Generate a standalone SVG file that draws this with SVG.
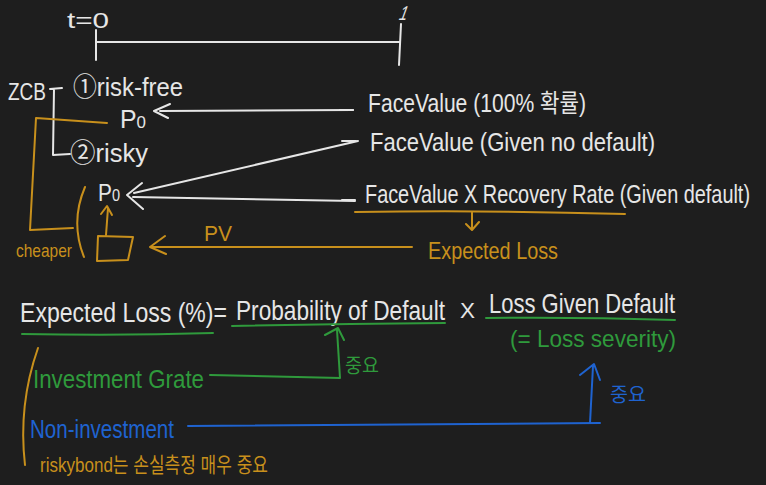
<svg xmlns="http://www.w3.org/2000/svg" width="766" height="485" viewBox="0 0 766 485">
<defs>
<style>
.t{font-family:"Liberation Sans","Noto Sans CJK KR",sans-serif;}
.w{fill:#e6e6e6}
.g{fill:#c8901c}
.gr{fill:#2f9a3c}
.b{fill:#1f63d0}
.sw{stroke:#e6e6e6;fill:none;stroke-width:2;stroke-linecap:round;stroke-linejoin:round}
.sg{stroke:#c8901c;fill:none;stroke-width:2;stroke-linecap:round;stroke-linejoin:round}
.sgr{stroke:#2f9a3c;fill:none;stroke-width:2;stroke-linecap:round;stroke-linejoin:round}
.sb{stroke:#1f63d0;fill:none;stroke-width:2;stroke-linecap:round;stroke-linejoin:round}
</style>
</defs>
<rect width="766" height="485" fill="#1e1e1e"/>

<g id="timeline">
<text class="t w" x="67" y="28" font-size="22" textLength="42" lengthAdjust="spacingAndGlyphs">t=0</text>
<text class="t w" x="398" y="20" font-size="20" transform="skewX(-20) translate(7 0)" textLength="8" lengthAdjust="spacingAndGlyphs">1</text>
<path class="sw" d="M96 42 L400 42 M96 30 L96 60 M401 24 L399 65"/>
</g>

<g id="zcb">
<text class="t w" x="8" y="100" font-size="24" textLength="38" lengthAdjust="spacingAndGlyphs">ZCB</text>
<path class="sw" d="M50 89 L62 88 M54 89 L53 155 L70 154"/>
</g>

<g id="riskfree">
<text class="t w" x="73" y="96" font-size="26" textLength="110" lengthAdjust="spacingAndGlyphs">①risk-free</text>
<text class="t w" x="120" y="128" font-size="25" textLength="26" lengthAdjust="spacingAndGlyphs">P<tspan font-size="17">0</tspan></text>
</g>

<g id="risky">
<text class="t w" x="70" y="162" font-size="26" textLength="78" lengthAdjust="spacingAndGlyphs">②risky</text>
<text class="t w" x="98" y="201" font-size="23" textLength="22" lengthAdjust="spacingAndGlyphs">P<tspan font-size="16">0</tspan></text>
</g>

<g id="facevalue1">
<text class="t w" x="368" y="112" font-size="25" textLength="218" lengthAdjust="spacingAndGlyphs">FaceValue (100% 확률)</text>
</g>
<g id="facevalue2">
<text class="t w" x="370" y="151" font-size="25" textLength="285" lengthAdjust="spacingAndGlyphs">FaceValue (Given no default)</text>
</g>
<g id="facevalue3">
<text class="t w" transform="translate(365 203) scale(1 1.26)" x="0" y="0" font-size="19.8" textLength="385" lengthAdjust="spacingAndGlyphs">FaceValue X Recovery Rate (Given default)</text>
</g>

<g id="expectedloss-top">
<text class="t g" x="428" y="259" font-size="24" textLength="130" lengthAdjust="spacingAndGlyphs">Expected Loss</text>
</g>

<g id="pv-box">
<text class="t g" x="204" y="241" font-size="22" textLength="28" lengthAdjust="spacingAndGlyphs">PV</text>
<path class="sg" d="M98 236 L133 237 L128 260 L97 261 Z"/>
</g>

<g id="cheaper">
<text class="t g" x="16" y="257" font-size="19" textLength="56" lengthAdjust="spacingAndGlyphs">cheaper</text>
</g>

<g id="formula">
<text class="t w" transform="translate(20 322) scale(1 1.22)" x="0" y="0" font-size="23" textLength="207" lengthAdjust="spacingAndGlyphs">Expected Loss (%)=</text>
<text class="t w" transform="translate(236 320) scale(1 1.24)" x="0" y="0" font-size="22.6" textLength="209" lengthAdjust="spacingAndGlyphs">Probability of Default</text>
<text class="t w" x="460" y="318" font-size="22" textLength="15" lengthAdjust="spacingAndGlyphs">X</text>
<text class="t w" transform="translate(489 313) scale(1 1.27)" x="0" y="0" font-size="22" textLength="186" lengthAdjust="spacingAndGlyphs">Loss Given Default</text>
<text class="t gr" x="510" y="347" font-size="24" textLength="166" lengthAdjust="spacingAndGlyphs">(= Loss severity)</text>
</g>

<g id="investment-grade">
<text class="t gr" x="33" y="388" font-size="26" textLength="171" lengthAdjust="spacingAndGlyphs">Investment Grate</text>
<text class="t gr" x="345" y="373" font-size="20" textLength="34" lengthAdjust="spacingAndGlyphs">중요</text>
</g>

<g id="non-investment">
<text class="t b" x="30" y="438" font-size="26" textLength="144" lengthAdjust="spacingAndGlyphs">Non-investment</text>
<text class="t b" x="610" y="402" font-size="20" textLength="36" lengthAdjust="spacingAndGlyphs">중요</text>
</g>

<g id="riskybond">
<text class="t g" x="40" y="472" font-size="21" textLength="228" lengthAdjust="spacingAndGlyphs">riskybond는 손실측정 매우 중요</text>
</g>

<g id="connectors">
<path class="sw" d="M353 110 L160 111 M170 104 L154 111 L168 118"/>
<path class="sw" d="M358 141 L134 193"/>
<path class="sw" d="M355 201 L133 197 M142 183 L127 195 L143 209"/>
<path class="sw" d="M340 110 L353 110 M342 141 L356 141 M342 200 L355 200"/>
<path class="sg" d="M355 212 Q490 210 625 214 M472 212 L472 228 M466 224 L472 230 L479 222"/>
<path class="sg" d="M412 247 L150 247 M165 236 L150 247 L166 254"/>
<path class="sg" d="M106 235 L108 208 M101 214 L107 206 L112 215"/>
<path class="sg" d="M85 187 Q70 222 84 257"/>
<path class="sg" d="M107 123 L36 118 L30 230 L73 228"/>
<path class="sgr" d="M22 334 Q120 336 213 333 M232 326 Q340 324 445 323 M486 318 Q580 317 675 320"/>
<path class="sgr" d="M210 375 L340 378 L337 330 M325 335 L338 328 L344 340"/>
<path class="sb" d="M188 426 L600 423 M590 423 L593 366 M580 375 L594 364 L600 380"/>
<path class="sg" d="M38 348 Q18 405 25 465"/>
</g>
</svg>
